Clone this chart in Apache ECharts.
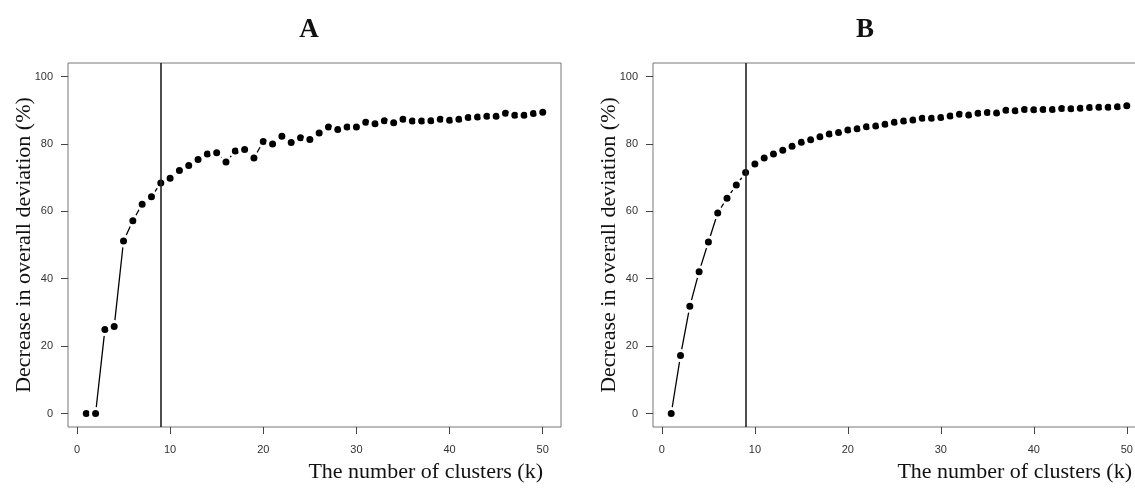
<!DOCTYPE html>
<html>
<head>
<meta charset="utf-8">
<script src="https://cdn.jsdelivr.net/npm/echarts@6/dist/echarts.min.js"></script>
<style>
  html, body { margin: 0; padding: 0; background: #fff; overflow: hidden; }
  /* a bit wider than the window: panel B's right border falls off the edge, as in the figure */
  #chart { width: 1145px; height: 488px; }
</style>
</head>
<body>
<div id="chart"></div>
<script>
const clusters = Array.from({ length: 50 }, (_, i) => i + 1);

const deviationA = [
  0, 0, 24.9, 25.8, 51.2, 57.2, 62.1, 64.3, 68.4, 69.8,
  72.1, 73.6, 75.4, 77.0, 77.4, 74.6, 77.9, 78.3, 75.8, 80.7,
  80.0, 82.3, 80.4, 81.8, 81.3, 83.2, 85.0, 84.3, 85.0, 85.0,
  86.4, 86.0, 86.9, 86.3, 87.3, 86.8, 86.8, 86.9, 87.3, 87.0,
  87.3, 87.8, 88.0, 88.2, 88.2, 89.1, 88.5, 88.5, 89.0, 89.4
];

const deviationB = [
  0, 17.2, 31.8, 42.1, 50.9, 59.5, 63.9, 67.8, 71.5, 74.0,
  75.8, 77.0, 78.1, 79.3, 80.5, 81.2, 82.1, 82.9, 83.4, 84.1,
  84.5, 85.1, 85.3, 85.8, 86.4, 86.8, 87.1, 87.6, 87.6, 87.8,
  88.3, 88.8, 88.6, 89.1, 89.3, 89.2, 90.0, 89.8, 90.2, 90.1,
  90.2, 90.2, 90.5, 90.4, 90.6, 90.8, 90.9, 90.9, 91.0, 91.3
];

const xTicks = [0, 10, 20, 30, 40, 50];
const yTicks = [0, 20, 40, 60, 80, 100];
const elbowK = 9;
const panelTitles = ['A', 'B'];
const xName = 'The number of clusters (k)';
const yName = 'Decrease in overall deviation (%)';

const chart = echarts.init(document.getElementById('chart'));

const serif = '"Liberation Serif", "DejaVu Serif", serif';
const sans = '"Liberation Sans", Arial, sans-serif';

function xAxisFor(gridIndex) {
  return {
    type: 'value',
    gridIndex: gridIndex,
    min: -0.96,
    max: 51.96,
    axisLine: { show: false, onZero: false },
    axisTick: { show: true, length: 7, customValues: xTicks, lineStyle: { color: '#444' } },
    axisLabel: { customValues: xTicks, margin: 17, fontFamily: sans, fontSize: 11, color: '#333' },
    splitLine: { show: false }
  };
}

function yAxisFor(gridIndex) {
  return {
    type: 'value',
    gridIndex: gridIndex,
    min: -4,
    max: 104,
    name: yName,
    nameLocation: 'middle',
    nameGap: 33,
    nameMoveOverlap: false,
    nameTextStyle: { fontFamily: serif, fontSize: 22, color: '#111' },
    axisLine: { show: false, onZero: false },
    axisTick: { show: true, length: 7, customValues: yTicks, lineStyle: { color: '#444' } },
    axisLabel: { customValues: yTicks, margin: 15, fontFamily: sans, fontSize: 11, color: '#333' },
    splitLine: { show: false }
  };
}

function seriesFor(index, values) {
  return {
    type: 'line',
    xAxisIndex: index,
    yAxisIndex: index,
    data: clusters.map((k, i) => [k, values[i]]),
    symbol: 'circle',
    symbolSize: 10,
    itemStyle: { color: '#000', borderColor: '#fff', borderWidth: 3 },
    lineStyle: { color: '#000', width: 1.3 },
    markLine: {
      silent: true,
      symbol: 'none',
      label: { show: false },
      lineStyle: { color: '#222', width: 1.6, type: 'solid' },
      data: [{ xAxis: elbowK }]
    }
  };
}

const titleStyle = { fontFamily: serif, fontSize: 27, fontWeight: 'bold', color: '#111' };
const nameStyle = { fontFamily: serif, fontSize: 22, fontWeight: 'normal', color: '#111' };

const option = {
  animation: false,
  backgroundColor: '#fff',
  title: [
    { text: panelTitles[0], left: 304, top: 12, textAlign: 'center', textStyle: titleStyle },
    { text: panelTitles[1], left: 860, top: 12, textAlign: 'center', textStyle: titleStyle },
    { text: xName, left: 543, top: 461, textAlign: 'right', padding: 0, textStyle: nameStyle },
    { text: xName, left: 1132, top: 461, textAlign: 'right', padding: 0, textStyle: nameStyle }
  ],
  grid: [
    { left: 68, top: 63, width: 493, height: 364, show: true, borderColor: '#777', borderWidth: 1 },
    { left: 653, top: 63, width: 492, height: 364, show: true, borderColor: '#777', borderWidth: 1 }
  ],
  xAxis: [xAxisFor(0), xAxisFor(1)],
  yAxis: [yAxisFor(0), yAxisFor(1)],
  series: [seriesFor(0, deviationA), seriesFor(1, deviationB)]
};

chart.setOption(option);
</script>
</body>
</html>
